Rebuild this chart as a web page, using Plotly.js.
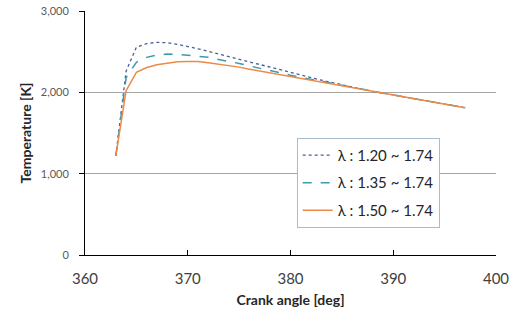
<!DOCTYPE html>
<html>
<head>
<meta charset="utf-8">
<script src="https://cdn.plot.ly/plotly-3.0.1.min.js"></script>
<style>html,body{margin:0;padding:0;background:#fff;}#chart{width:518px;height:315px;}</style>
</head>
<body>
<div id="chart"></div>
<script>
const crankAngle = [363,364,365,366,367,368,369,370,371,372,373,374,375,376,377,378,379,380,381,382,383,384,385,386,387,388,389,390,391,392,393,394,395,396,397];
const tempLambda120 = [1220,2260,2555,2600,2615,2610,2590,2565,2535,2505,2472,2443,2410,2375,2340,2305,2270,2240,2210,2180,2150,2120,2090,2062,2037,2013,1990,1968,1945,1922,1900,1878,1855,1833,1811];
const tempLambda135 = [1220,2180,2370,2430,2460,2470,2468,2458,2445,2430,2405,2383,2355,2325,2295,2265,2238,2210,2185,2160,2135,2108,2083,2060,2036,2013,1990,1968,1945,1922,1900,1878,1855,1833,1811];
const tempLambda150 = [1220,2020,2245,2305,2340,2360,2375,2380,2378,2365,2348,2332,2310,2285,2262,2238,2215,2192,2170,2148,2125,2103,2080,2058,2036,2013,1990,1968,1945,1922,1900,1878,1855,1833,1811];
const seriesNames = ["λ : 1.20 ~ 1.74", "λ : 1.35 ~ 1.74", "λ : 1.50 ~ 1.74"];
const xTicks = [360,370,380,390,400];
const yTicks = [0,1000,2000,3000];
const yTickText = ["0","1,000","2,000","3,000"];

const traces = [
  {x: crankAngle, y: tempLambda120, name: seriesNames[0], legendgroup:"a", mode:"lines",
   line:{color:"#4a5f96", width:1.3, dash:"dot"}},
  {x: crankAngle, y: tempLambda135, name: seriesNames[1], legendgroup:"b", mode:"lines",
   line:{color:"#3c9aae", width:1.5, dash:"dash"}},
  {x: crankAngle, y: tempLambda150, name: seriesNames[2], legendgroup:"c", mode:"lines",
   line:{color:"#ee8a45", width:1.5}}
];

const layout = {
  width:518, height:315,
  margin:{l:85, r:22, t:11, b:60},
  paper_bgcolor:"#fff", plot_bgcolor:"#fff",
  font:{family:"Lato, 'Open Sans', sans-serif", color:"#404040"},
  showlegend:true,
  legend:{x:0.515, y:0.48, xanchor:"left", yanchor:"top",
    bordercolor:"#a9bccf", borderwidth:1, bgcolor:"#fff",
    font:{size:15, color:"#262626"}, tracegroupgap:5, traceorder:"grouped", itemwidth:30},
  xaxis:{range:[360,400], tickvals:xTicks, ticktext:xTicks.map(String),
    showgrid:false, zeroline:false, showline:true, linecolor:"#000", linewidth:1,
    ticks:"inside", ticklen:5, tickcolor:"#000", ticklabelstandoff:10,
    tickfont:{size:15, color:"#404040"},
    title:{text:"<b>Crank angle [deg]</b>", font:{size:14, color:"#262626"}, standoff:9}},
  yaxis:{range:[0,3000], tickvals:yTicks, ticktext:yTickText,
    showgrid:true, gridcolor:"#a6a6a6", gridwidth:1, zeroline:false,
    showline:true, linecolor:"#000", linewidth:1,
    ticks:"outside", ticklen:5, tickcolor:"#000", ticklabelstandoff:8,
    tickfont:{size:11, color:"#595959"},
    title:{text:"<b>Temperature [K]</b>", font:{size:14, color:"#262626"}, standoff:5}}
};

Plotly.newPlot("chart", traces, layout, {displayModeBar:false, staticPlot:true});
</script>
</body>
</html>
